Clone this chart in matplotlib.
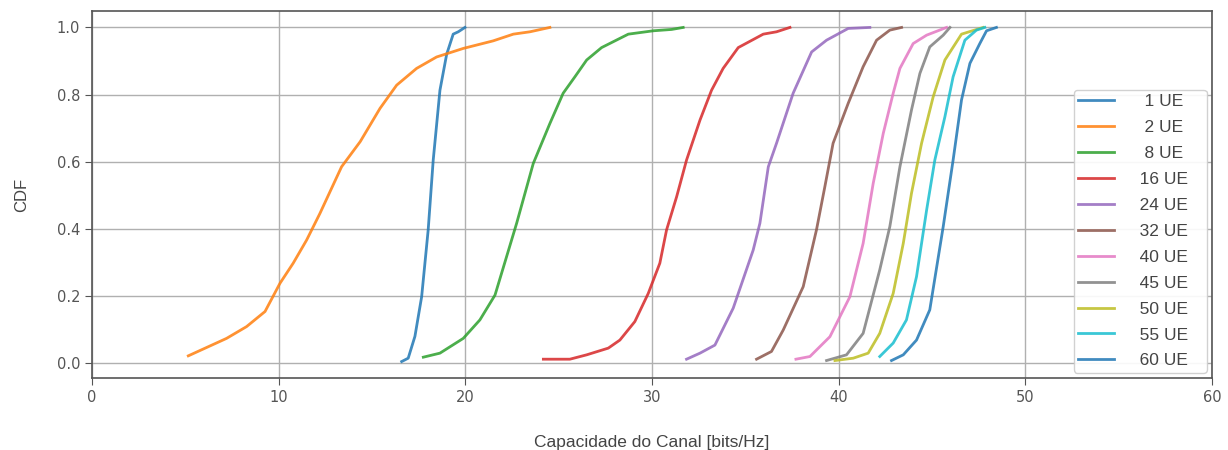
import matplotlib.pyplot as plt

# CDF curves of channel capacity for different numbers of users
x_1ue = [16.59, 16.94, 17.30, 17.66, 18.01, 18.28, 18.64, 19.00, 19.35, 19.62, 19.98]
y_1ue = [0.005, 0.015, 0.08, 0.198, 0.397, 0.605, 0.813, 0.92, 0.98, 0.987, 1.0]

x_2ue = [5.16, 7.21, 8.28, 9.27, 10.07, 10.78, 11.50, 12.21, 13.37, 14.37, 15.43,
         16.32, 17.39, 18.46, 19.89, 21.49, 22.57, 23.46, 24.53]
y_2ue = [0.022, 0.074, 0.109, 0.154, 0.238, 0.298, 0.367, 0.446, 0.585, 0.66, 0.759,
         0.828, 0.878, 0.912, 0.9375, 0.96, 0.98, 0.987, 1.0]

x_8ue = [17.75, 18.64, 19.89, 20.78, 21.59, 22.75, 23.64, 24.53, 25.24, 25.87,
         26.50, 27.30, 28.73, 30.07, 31.05, 31.67]
y_8ue = [0.018, 0.03, 0.074, 0.129, 0.203, 0.417, 0.595, 0.714, 0.804, 0.853,
         0.903, 0.94, 0.98, 0.99, 0.994, 1.0]

x_16ue = [24.18, 25.60, 26.50, 27.66, 28.28, 29.08, 29.80, 30.42, 30.78, 31.32,
          31.85, 32.57, 33.19, 33.81, 34.62, 35.96, 36.67, 37.39]
y_16ue = [0.012, 0.012, 0.025, 0.045, 0.069, 0.124, 0.208, 0.298, 0.397, 0.496,
          0.605, 0.724, 0.813, 0.878, 0.94, 0.98, 0.987, 1.0]

x_24ue = [31.85, 32.57, 33.37, 34.35, 35.42, 35.78, 36.23, 36.67, 37.56, 38.55,
          39.35, 40.51, 41.67]
y_24ue = [0.012, 0.03, 0.054, 0.164, 0.337, 0.417, 0.585, 0.655, 0.804, 0.927,
          0.962, 0.997, 1.0]

x_32ue = [35.60, 36.40, 37.03, 38.10, 38.81, 39.26, 39.70, 40.51, 41.31, 42.03,
          42.74, 43.37]
y_32ue = [0.012, 0.035, 0.099, 0.228, 0.397, 0.526, 0.655, 0.774, 0.883, 0.962,
          0.992, 1.0]

x_40ue = [37.71, 38.46, 39.53, 40.60, 41.31, 41.85, 42.39, 42.92, 43.28, 43.99,
          44.71, 45.78]
y_40ue = [0.012, 0.02, 0.079, 0.198, 0.357, 0.536, 0.685, 0.804, 0.878, 0.952,
          0.977, 1.0]

x_45ue = [39.35, 40.42, 41.31, 42.20, 42.74, 43.28, 43.90, 44.35, 44.88, 45.60, 45.96]
y_45ue = [0.008, 0.025, 0.089, 0.278, 0.407, 0.585, 0.754, 0.863, 0.942, 0.977, 1.0]

x_50ue = [39.80, 40.78, 41.58, 42.20, 42.92, 43.46, 43.90, 44.44, 45.06, 45.69,
          46.58, 47.74]
y_50ue = [0.008, 0.015, 0.03, 0.089, 0.208, 0.357, 0.506, 0.655, 0.793, 0.903,
          0.98, 1.0]

x_55ue = [42.20, 42.92, 43.63, 44.17, 44.71, 45.15, 45.69, 46.13, 46.76, 47.38, 47.83]
y_55ue = [0.02, 0.06, 0.129, 0.258, 0.456, 0.605, 0.734, 0.853, 0.962, 0.992, 1.0]

x_60ue = [42.83, 43.46, 44.17, 44.88, 45.60, 46.13, 46.58, 47.03, 47.56, 47.92, 48.45]
y_60ue = [0.008, 0.025, 0.069, 0.159, 0.407, 0.605, 0.784, 0.893, 0.952, 0.99, 1.0]

n_users = [1, 2, 8, 16, 24, 32, 40, 45, 50, 55, 60]
curves = [
    (x_1ue, y_1ue), (x_2ue, y_2ue), (x_8ue, y_8ue), (x_16ue, y_16ue),
    (x_24ue, y_24ue), (x_32ue, y_32ue), (x_40ue, y_40ue), (x_45ue, y_45ue),
    (x_50ue, y_50ue), (x_55ue, y_55ue), (x_60ue, y_60ue),
]

label_font = "Liberation Sans"
text_gray = "#444444"

fig = plt.figure(figsize=(12.28, 4.5), dpi=100)
ax = fig.add_axes([0.0749, 0.16, 0.9121, 0.8156])

for n, (xs, ys) in zip(n_users, curves):
    pad = "    " if n < 10 else "   "
    ax.plot(xs, ys, lw=2, alpha=0.85, label=f"{pad}{n} UE   ")

ax.set_xlim(0, 60)
ax.set_ylim(-0.044, 1.049)
ax.set_xticks(range(0, 61, 10))
ax.set_yticks([0.0, 0.2, 0.4, 0.6, 0.8, 1.0])
ax.grid(True, color="#b0b0b0", lw=1)
ax.tick_params(labelsize=10.5, colors="#555555", length=5)
for s in ax.spines.values():
    s.set_color("#555555")
    s.set_linewidth(1.2)

ax.set_xlabel("Capacidade do Canal [bits/Hz]", family=label_font, fontsize=12.5,
              color=text_gray, labelpad=22)
ax.set_ylabel("CDF", family=label_font, fontsize=12, color=text_gray, labelpad=20)

leg = ax.legend(loc="lower right", prop={"family": label_font, "size": 12.5},
                labelspacing=0.62, handlelength=2.1, handletextpad=0.6,
                borderaxespad=0.3, borderpad=0.25, framealpha=0.9)
for t in leg.get_texts():
    t.set_color(text_gray)

fig.savefig("out.png", dpi=100)
